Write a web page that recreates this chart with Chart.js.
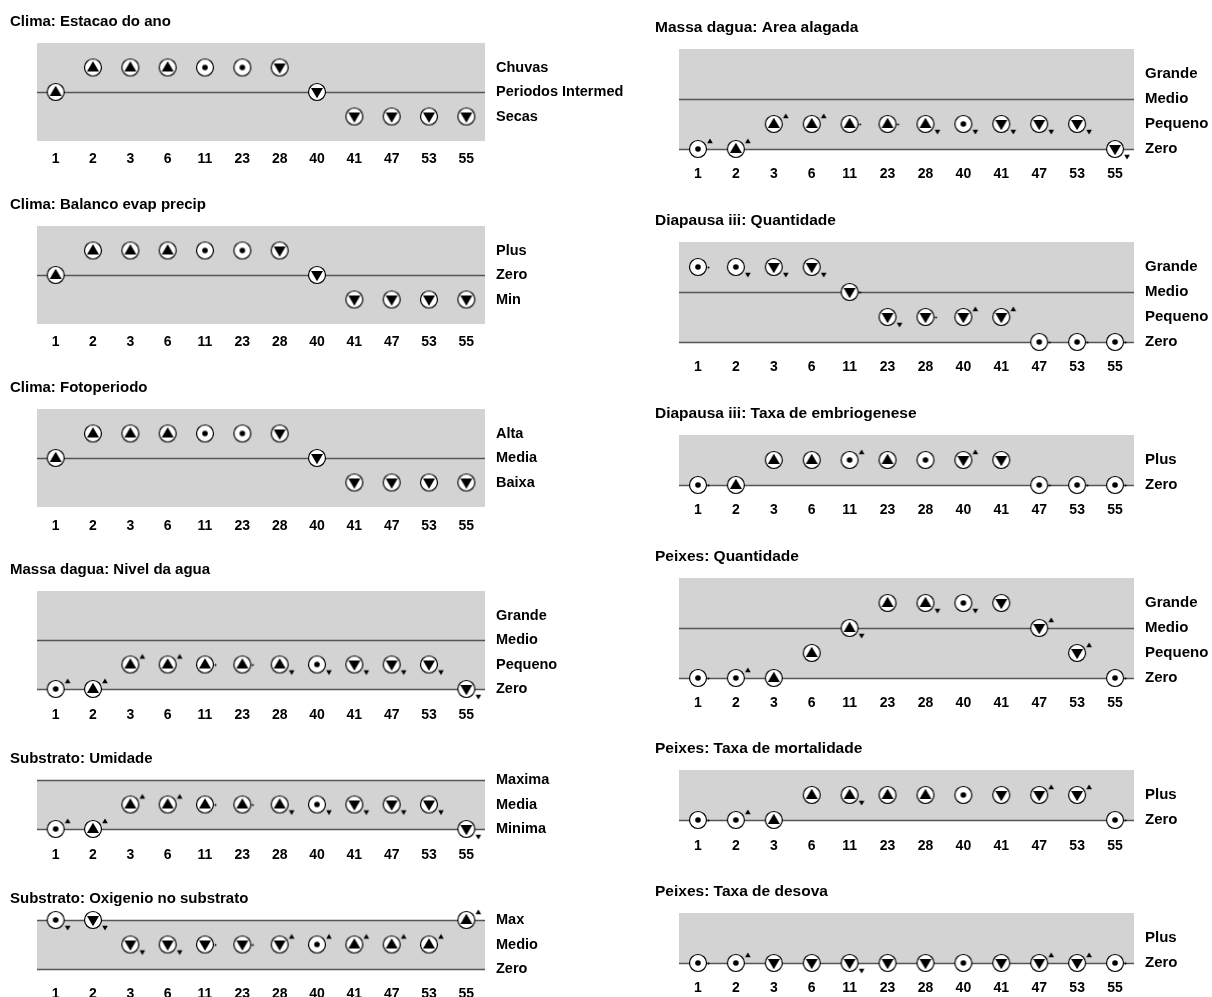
<!DOCTYPE html>
<html>
<head>
<meta charset="utf-8">
<title>Historico de valores</title>
<script src="https://cdn.jsdelivr.net/npm/chart.js@4.4.1/dist/chart.umd.min.js"></script>
<style>
  html, body { margin: 0; padding: 0; background: #fff; overflow: hidden; }
  #page { position: relative; width: 1212px; height: 997px; }
  #page canvas { position: absolute; }
</style>
</head>
<body>
<div id="page"></div>
<script>
// states of the simulation (x axis)
const steps = ['1', '2', '3', '6', '11', '23', '28', '40', '41', '47', '53', '55'];

// quantity spaces (lowest first)
const estacaoLevels = ['Secas', 'Periodos Intermed', 'Chuvas'];
const balancoLevels = ['Min', 'Zero', 'Plus'];
const fotoLevels = ['Baixa', 'Media', 'Alta'];
const tamanhoLevels = ['Zero', 'Pequeno', 'Medio', 'Grande'];
const umidadeLevels = ['Minima', 'Media', 'Maxima'];
const oxigenioLevels = ['Zero', 'Medio', 'Max'];
const taxaLevels = ['Zero', 'Plus'];

// values = index in quantity space, deriv = sign of derivative, deriv2 = sign of 2nd derivative (null = none)
const climaValues = [1, 2, 2, 2, 2, 2, 2, 1, 0, 0, 0, 0];
const climaDeriv = [1, 1, 1, 1, 0, 0, -1, -1, -1, -1, -1, -1];
const climaDeriv2 = [null, null, null, null, null, null, null, null, null, null, null, null];

const nivelValues = [0, 0, 1, 1, 1, 1, 1, 1, 1, 1, 1, 0];
const nivelDeriv = [0, 1, 1, 1, 1, 1, 1, 0, -1, -1, -1, -1];
const nivelDeriv2 = [1, 1, 1, 1, 0, 0, -1, -1, -1, -1, -1, -1];

const areaValues = [0, 0, 1, 1, 1, 1, 1, 1, 1, 1, 1, 0];
const areaDeriv = [0, 1, 1, 1, 1, 1, 1, 0, -1, -1, -1, -1];
const areaDeriv2 = [1, 1, 1, 1, 0, 0, -1, -1, -1, -1, -1, -1];

const umidadeValues = [0, 0, 1, 1, 1, 1, 1, 1, 1, 1, 1, 0];
const umidadeDeriv = [0, 1, 1, 1, 1, 1, 1, 0, -1, -1, -1, -1];
const umidadeDeriv2 = [1, 1, 1, 1, 0, 0, -1, -1, -1, -1, -1, -1];

const oxigenioValues = [2, 2, 1, 1, 1, 1, 1, 1, 1, 1, 1, 2];
const oxigenioDeriv = [0, -1, -1, -1, -1, -1, -1, 0, 1, 1, 1, 1];
const oxigenioDeriv2 = [-1, -1, -1, -1, 0, 0, 1, 1, 1, 1, 1, 1];

const diaQtdValues = [3, 3, 3, 3, 2, 1, 1, 1, 1, 0, 0, 0];
const diaQtdDeriv = [0, 0, -1, -1, -1, -1, -1, -1, -1, 0, 0, 0];
const diaQtdDeriv2 = [0, -1, -1, -1, 0, -1, 0, 1, 1, 0, 0, 0];

const embrioValues = [0, 0, 1, 1, 1, 1, 1, 1, 1, 0, 0, 0];
const embrioDeriv = [0, 1, 1, 1, 0, 1, 0, -1, -1, 0, 0, 0];
const embrioDeriv2 = [0, null, null, null, 1, null, null, 1, null, 0, 0, 0];

const peixesQtdValues = [0, 0, 0, 1, 2, 3, 3, 3, 3, 2, 1, 0];
const peixesQtdDeriv = [0, 0, 1, 1, 1, 1, 1, 0, -1, -1, -1, 0];
const peixesQtdDeriv2 = [0, 1, null, null, -1, null, -1, -1, null, 1, 1, 0];

const mortValues = [0, 0, 0, 1, 1, 1, 1, 1, 1, 1, 1, 0];
const mortDeriv = [0, 0, 1, 1, 1, 1, 1, 0, -1, -1, -1, 0];
const mortDeriv2 = [0, 1, null, null, -1, null, null, null, null, 1, 1, 0];

const desovaValues = [0, 0, 0, 0, 0, 0, 0, 0, 0, 0, 0, 0];
const desovaDeriv = [0, 0, -1, -1, -1, -1, -1, 0, -1, -1, -1, 0];
const desovaDeriv2 = [0, 1, null, null, -1, null, null, null, null, 1, 1, 0];

// panels: title, quantity space, point values (drawn as lines), data
const panels = [
  { col: 'L', base: 116, title: 'Clima: Estacao do ano', levels: estacaoLevels, points: [1], values: climaValues, deriv: climaDeriv, deriv2: climaDeriv2, tickGap: 18 },
  { col: 'L', base: 299, title: 'Clima: Balanco evap precip', levels: balancoLevels, points: [1], values: climaValues, deriv: climaDeriv, deriv2: climaDeriv2, tickGap: 18 },
  { col: 'L', base: 482, title: 'Clima: Fotoperiodo', levels: fotoLevels, points: [1], values: climaValues, deriv: climaDeriv, deriv2: climaDeriv2, tickGap: 19 },
  { col: 'L', base: 689, title: 'Massa dagua: Nivel da agua', levels: tamanhoLevels, points: [0, 2], values: nivelValues, deriv: nivelDeriv, deriv2: nivelDeriv2, tickGap: 26 },
  { col: 'L', base: 829, title: 'Substrato: Umidade', levels: umidadeLevels, points: [0, 2], values: umidadeValues, deriv: umidadeDeriv, deriv2: umidadeDeriv2, tickGap: 26 },
  { col: 'L', base: 969, title: 'Substrato: Oxigenio no substrato', levels: oxigenioLevels, points: [0, 2], values: oxigenioValues, deriv: oxigenioDeriv, deriv2: oxigenioDeriv2, tickGap: 25 },
  { col: 'R', base: 149, title: 'Massa dagua: Area alagada', levels: tamanhoLevels, points: [0, 2], values: areaValues, deriv: areaDeriv, deriv2: areaDeriv2, tickGap: 25 },
  { col: 'R', base: 342, title: 'Diapausa iii: Quantidade', levels: tamanhoLevels, points: [0, 2], values: diaQtdValues, deriv: diaQtdDeriv, deriv2: diaQtdDeriv2, tickGap: 25 },
  { col: 'R', base: 485, title: 'Diapausa iii: Taxa de embriogenese', levels: taxaLevels, points: [0], values: embrioValues, deriv: embrioDeriv, deriv2: embrioDeriv2, tickGap: 25 },
  { col: 'R', base: 678, title: 'Peixes: Quantidade', levels: tamanhoLevels, points: [0, 2], values: peixesQtdValues, deriv: peixesQtdDeriv, deriv2: peixesQtdDeriv2, tickGap: 25 },
  { col: 'R', base: 820, title: 'Peixes: Taxa de mortalidade', levels: taxaLevels, points: [0], values: mortValues, deriv: mortDeriv, deriv2: mortDeriv2, tickGap: 26 },
  { col: 'R', base: 963, title: 'Peixes: Taxa de desova', levels: taxaLevels, points: [0], values: desovaValues, deriv: desovaDeriv, deriv2: desovaDeriv2, tickGap: 25 }
];

const columns = {
  L: { left: 37, width: 448, step: 24.5, axisW: 150, titleDx: 27, titleSize: 15, labelSize: 14.5 },
  R: { left: 679, width: 455, step: 25, axisW: 78, titleDx: 24, titleSize: 15.5, labelSize: 15 }
};

const FONT = "'Liberation Sans', Arial, Helvetica, sans-serif";
const PAD_LEFT = 30, PAD_TOP = 34, X_AXIS_H = 40;

// marker: circle with derivative sign, small mark for 2nd derivative
const symbolCache = {};
function symbol(d, d2) {
  const key = d + '|' + d2;
  if (symbolCache[key]) return symbolCache[key];
  const c = document.createElement('canvas');
  c.width = 36; c.height = 26;
  const g = c.getContext('2d');
  const cx = 18, cy = 13, r = 8.5;
  g.beginPath();
  g.arc(cx, cy, r, 0, Math.PI * 2);
  g.fillStyle = '#fff';
  g.fill();
  g.lineWidth = 1.2;
  g.strokeStyle = '#000';
  g.stroke();
  g.fillStyle = '#000';
  g.beginPath();
  if (d === 1) {
    g.moveTo(cx, cy - 6.3); g.lineTo(cx + 6, cy + 4); g.lineTo(cx - 6, cy + 4);
  } else if (d === -1) {
    g.moveTo(cx, cy + 6.3); g.lineTo(cx + 6, cy - 4); g.lineTo(cx - 6, cy - 4);
  } else {
    g.arc(cx, cy, 2.8, 0, Math.PI * 2);
  }
  g.closePath();
  g.fill();
  const mx = cx + 12;
  g.beginPath();
  if (d2 === 1) {
    g.moveTo(mx, cy - 10.5); g.lineTo(mx + 2.8, cy - 5.8); g.lineTo(mx - 2.8, cy - 5.8);
  } else if (d2 === -1) {
    g.moveTo(mx, cy + 10.5); g.lineTo(mx + 2.8, cy + 5.8); g.lineTo(mx - 2.8, cy + 5.8);
  } else if (d2 === 0) {
    g.arc(mx - 1.5, cy + 0.5, 1, 0, Math.PI * 2);
  }
  g.closePath();
  g.fill();
  symbolCache[key] = c;
  return c;
}

// grey background, title and lines at the point values
const panelDecor = {
  id: 'panelDecor',
  beforeDraw(chart, args, opts) {
    const { ctx, chartArea: a } = chart;
    ctx.save();
    ctx.fillStyle = '#d3d3d3';
    ctx.fillRect(a.left, a.top, a.right - a.left, a.bottom - a.top);
    ctx.fillStyle = '#000';
    ctx.font = 'bold ' + opts.size + 'px ' + FONT;
    ctx.textBaseline = 'middle';
    ctx.fillText(opts.title, a.left - opts.titleDx, a.top - 21);
    ctx.restore();
  },
  beforeDatasetsDraw(chart, args, opts) {
    const { ctx, chartArea: a, scales: { y } } = chart;
    ctx.save();
    ctx.strokeStyle = '#555';
    ctx.lineWidth = 1.4;
    opts.points.forEach(v => {
      const py = Math.round(y.getPixelForValue(v)) + 0.5;
      ctx.beginPath();
      ctx.moveTo(a.left, py);
      ctx.lineTo(a.right, py);
      ctx.stroke();
    });
    ctx.restore();
  }
};

const page = document.getElementById('page');

panels.forEach(p => {
  const col = columns[p.col];
  const n = p.levels.length;
  const yMin = p.points.includes(0) ? 0 : -1;
  const yMax = p.points.includes(n - 1) ? n - 1 : n;
  const areaTop = p.base - yMax * col.step;
  const areaH = (yMax - yMin) * col.step;

  const canvas = document.createElement('canvas');
  canvas.width = PAD_LEFT + col.width + col.axisW;
  canvas.height = Math.round(PAD_TOP + areaH + X_AXIS_H);
  canvas.style.left = (col.left - PAD_LEFT) + 'px';
  canvas.style.top = (areaTop - PAD_TOP) + 'px';
  page.appendChild(canvas);

  new Chart(canvas, {
    type: 'line',
    data: {
      labels: steps,
      datasets: [{
        data: p.values,
        showLine: false,
        pointStyle: p.values.map((v, i) => symbol(p.deriv[i], p.deriv2[i])),
        pointRadius: 9,
        clip: false
      }]
    },
    options: {
      responsive: false,
      animation: false,
      devicePixelRatio: 1,
      events: [],
      layout: { padding: { left: PAD_LEFT, top: PAD_TOP, right: 0, bottom: 0 } },
      plugins: {
        legend: { display: false },
        tooltip: { enabled: false },
        panelDecor: { title: p.title, titleDx: col.titleDx, size: col.titleSize, points: p.points }
      },
      scales: {
        x: {
          offset: true,
          grid: { display: false, drawTicks: false },
          border: { display: false },
          ticks: {
            color: '#000',
            font: { family: FONT, size: 14, weight: 'bold' },
            padding: p.tickGap - 8.5,
            maxRotation: 0,
            autoSkip: false
          },
          afterFit: a => { a.height = X_AXIS_H; }
        },
        y: {
          position: 'right',
          min: yMin,
          max: yMax,
          grid: { display: false, drawTicks: false },
          border: { display: false },
          afterBuildTicks: a => { a.ticks = p.levels.map((_, i) => ({ value: i })); },
          ticks: {
            color: '#000',
            font: { family: FONT, size: col.labelSize, weight: 'bold' },
            padding: 11,
            callback: v => p.levels[v]
          },
          afterFit: a => { a.width = col.axisW; }
        }
      }
    },
    plugins: [panelDecor]
  });
});
</script>
</body>
</html>
